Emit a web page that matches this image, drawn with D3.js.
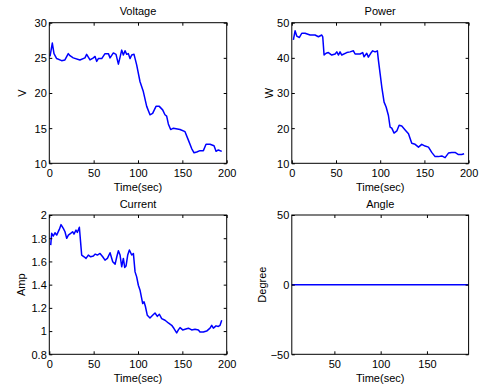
<!DOCTYPE html>
<html><head><meta charset="utf-8">
<script src="https://cdn.jsdelivr.net/npm/d3@7"></script>
<style>body{margin:0;background:#fff}svg{display:block}text{font-family:"Liberation Sans",Arial,sans-serif;font-size:11px;fill:#000}</style>
</head><body>
<svg id="c" width="480" height="385"></svg>
<script>
// ---- data ----
const voltageT = [0.8,3.4,5.3,8.3,13.9,17.6,21.4,23.3,27,34.5,40.2,42.1,44,45.9,49.7,51.6,53.4,55.3,59.1,62.8,66.6,68.5,72.2,75.2,77.9,79.8,81.6,83.5,85.4,87.3,89.1,91,92.9,95.5,98.5,102.3,106,109.8,113.5,116.5,120.3,124,127.8,130.4,132.3,134.2,136.8,139.9,147.4,153,156.8,160.5,163.2,166.2,169.9,173.7,176.7,181.2,185.7,188,190.6,194.4];
const voltageV = [25.2,27.1,25.6,24.9,24.6,24.7,25.6,25.3,25,24.7,25,25.5,25.1,24.7,25,25.2,24.5,24.9,24.9,25.6,25.6,25,25.7,25.5,24.1,25.1,26.1,25.4,26,25.5,25.6,24.9,25.4,25.5,24,21.6,20.2,18.1,16.9,17.1,18.1,18.1,17.6,16.9,16.7,15.6,14.8,15,14.8,14.5,13.3,12.1,11.5,11.6,11.8,11.8,12.7,12.7,12.5,11.7,11.9,11.7];
const powerT = [1.8,3.7,5.6,8.6,11.3,15,20.7,26.3,30.1,33.9,35,36.5,38.8,41.4,45.2,49,50.9,52.7,54.6,56.5,62.2,65.9,69.7,71.6,77.2,80.2,81.7,84.8,86.6,89.3,91.5,94.2,96.8,98,99.9,101.8,104.4,106.7,109.3,111.2,113.1,115.7,118.8,121.4,124.4,128.2,132,135.7,139.5,143.3,147,150.8,154.6,158.3,162.1,165.9,169.6,173.4,177.2,180.9,184.7,188.5,192.2,194.9];
const powerW = [45.1,47.7,46.2,45.8,47,47,46.5,46.5,46,46.5,46,40.8,41.3,41.5,40.8,41.1,41.7,40.8,41.7,40.8,41.5,41.7,42,41.1,41.1,41.5,40.3,41.3,40.2,41.3,42,41.7,42,39.3,35.5,31.7,27.4,26,23.6,20.3,20,18.6,19.2,20.8,20.6,19.5,18.4,15.7,15.4,14.6,15.4,14.9,14.6,13.1,11.9,11.9,12.1,11.6,12.9,13.1,13.1,12.5,12.5,12.7];
const currentT = [1.6,2.7,4.6,6.4,8.3,11.3,13.2,15.8,17.7,19.6,21.5,24.1,26.3,27.8,30.1,31.6,33.9,35.4,36.5,39.2,41.4,44,46.7,49.7,51.6,54.2,57.2,60.2,62.8,65.5,68.5,71.5,74.2,76.1,77.9,79.8,81.6,83.5,85,86.5,88.4,90.3,92.9,94.8,96.7,98.5,100.4,102.3,105.3,106.8,108.3,110.5,113.5,116.5,119.2,121.8,124.1,126.7,130.5,134.2,138,140.6,143.6,145.5,147.4,150.4,153,156.8,160.5,164.3,168.1,169.9,173.7,177.4,181.2,183.1,185,188,190.6,192.5,194.4];
const currentA = [1.741,1.842,1.819,1.847,1.827,1.876,1.917,1.885,1.856,1.799,1.827,1.842,1.856,1.836,1.87,1.85,1.894,1.756,1.655,1.64,1.626,1.655,1.64,1.646,1.663,1.655,1.669,1.64,1.611,1.626,1.675,1.597,1.577,1.64,1.692,1.655,1.554,1.626,1.548,1.56,1.655,1.698,1.655,1.669,1.51,1.467,1.395,1.352,1.237,1.252,1.214,1.136,1.113,1.136,1.156,1.127,1.145,1.108,1.093,1.07,1.05,1.022,0.984,1.01,1.03,1.01,1.016,1.025,1.01,1.016,1.01,0.992,0.992,1.0,1.025,1.05,1.025,1.045,1.04,1.05,1.093];
const angleT = [4,195];
const angleD = [0,0];
const xTicksMain = [0,50,100,150,200];
const xTicksAngle = [50,100,150];
const vTicks = [10,15,20,25,30];
const wTicks = [10,20,30,40,50];
const aTicks = [0.8,1,1.2,1.4,1.6,1.8,2];
const dTicks = [-50,0,50];

const svg = d3.select("#c");

function panel(o){
  const g = svg.append("g");
  const x = d3.scaleLinear().domain(o.xd).range([o.x0,o.x1]);
  const y = d3.scaleLinear().domain(o.yd).range([o.y1,o.y0]);
  const tl = 3;
  g.append("path").datum(o.t.map((t,i)=>[t,o.v[i]]))
    .attr("fill","none").attr("stroke","#0000ff").attr("stroke-width",1.5)
    .attr("stroke-linejoin","round")
    .attr("d", d3.line().x(d=>x(d[0])).y(d=>y(d[1])));
  const bx = d3.axisBottom(x).tickValues(o.xt).tickSizeInner(-tl).tickSizeOuter(0).tickPadding(6).tickFormat(d3.format("~g"));
  const tx = d3.axisTop(x).tickValues(o.xt).tickSizeInner(-tl).tickSizeOuter(0).tickFormat("");
  const ly = d3.axisLeft(y).tickValues(o.yt).tickSizeInner(-tl).tickSizeOuter(0).tickPadding(0).tickFormat(d3.format("~g"));
  const ry = d3.axisRight(y).tickValues(o.yt).tickSizeInner(-tl).tickSizeOuter(0).tickFormat("");
  const gb = g.append("g").attr("transform",`translate(0,${o.y1})`).call(bx);
  const gt = g.append("g").attr("transform",`translate(0,${o.y0})`).call(tx);
  const gl = g.append("g").attr("transform",`translate(${o.x0},0)`).call(ly);
  const gr = g.append("g").attr("transform",`translate(${o.x1},0)`).call(ry);
  [gb,gt,gl,gr].forEach(a=>{
    a.selectAll("path.domain").remove();
    a.selectAll("line").attr("stroke","#000");
    a.selectAll("text").attr("fill","#000").style("font-size","11px").style("font-family",'"Liberation Sans",Arial,sans-serif');
  });
  gb.selectAll("text").attr("dy",null).attr("y",14);
  gl.selectAll("text").attr("dy","0.35em").attr("x",-2.5);
  g.append("rect").attr("x",o.x0).attr("y",o.y0).attr("width",o.x1-o.x0).attr("height",o.y1-o.y0)
    .attr("fill","none").attr("stroke","#000").attr("stroke-width",1);
  g.append("text").attr("x",(o.x0+o.x1)/2).attr("y",o.y0-7.5).attr("text-anchor","middle").text(o.title);
  g.append("text").attr("x",(o.x0+o.x1)/2).attr("y",o.y1+27.5).attr("text-anchor","middle").text("Time(sec)");
  g.append("text").attr("transform",`translate(${o.ylx},${(o.y0+o.y1)/2}) rotate(-90)`)
    .attr("text-anchor","middle").attr("dy","0.35em").text(o.ylabel);
}

panel({title:"Voltage",ylabel:"V",x0:49.3,x1:226.7,y0:22.7,y1:163.3,xd:[0,200],yd:[10,30],xt:xTicksMain,yt:vTicks,t:voltageT,v:voltageV,ylx:22.5});
panel({title:"Power",ylabel:"W",x0:291.8,x1:468.6,y0:22.7,y1:163.3,xd:[0,200],yd:[10,50],xt:xTicksMain,yt:wTicks,t:powerT,v:powerW,ylx:269});
panel({title:"Current",ylabel:"Amp",x0:49.3,x1:226.7,y0:215,y1:354.3,xd:[0,200],yd:[0.8,2],xt:xTicksMain,yt:aTicks,t:currentT,v:currentA,ylx:21});
panel({title:"Angle",ylabel:"Degree",x0:291.8,x1:468.6,y0:215,y1:354.3,xd:[4,195],yd:[-50,50],xt:xTicksAngle,yt:dTicks,t:angleT,v:angleD,ylx:261.7});
</script>
</body></html>
